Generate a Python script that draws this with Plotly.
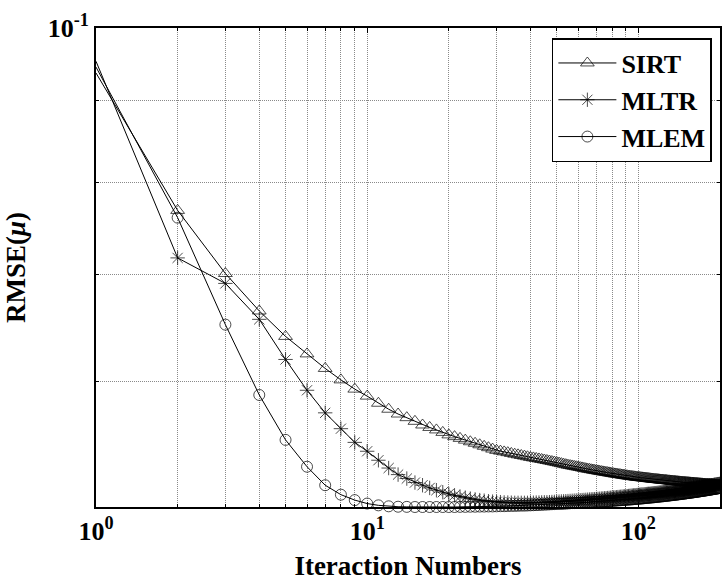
import plotly.graph_objects as go

# RMSE per iteration (iterations 1..200)
sirt = [
    0.0937, 0.0768, 0.0701, 0.0664, 0.0640, 0.0624, 0.0611, 0.0601, 0.0593, 0.0587,
    0.0581, 0.0576, 0.0572, 0.0569, 0.0566, 0.0563, 0.0561, 0.0559, 0.0557, 0.0555,
    0.05536, 0.05522, 0.05508, 0.05495, 0.05483, 0.05471, 0.05459, 0.05448, 0.05437, 0.05427,
    0.05421, 0.05415, 0.05409, 0.05403, 0.05397, 0.05392, 0.05387, 0.05382, 0.05377, 0.05372,
    0.05368, 0.05364, 0.05360, 0.05356, 0.05352, 0.05348, 0.05344, 0.05340, 0.05336, 0.05332,
    0.05328, 0.05324, 0.05320, 0.05316, 0.05312, 0.05309, 0.05306, 0.05303, 0.05300, 0.05297,
    0.05294, 0.05291, 0.05288, 0.05285, 0.05282, 0.05280, 0.05277, 0.05275, 0.05272, 0.05270,
    0.05268, 0.05265, 0.05263, 0.05261, 0.05259, 0.05257, 0.05255, 0.05253, 0.05251, 0.05249,
    0.05247, 0.05245, 0.05244, 0.05242, 0.05240, 0.05239, 0.05237, 0.05235, 0.05234, 0.05232,
    0.05231, 0.05229, 0.05228, 0.05227, 0.05225, 0.05224, 0.05223, 0.05221, 0.05220, 0.05219,
    0.05218, 0.05217, 0.05216, 0.05215, 0.05214, 0.05213, 0.05212, 0.05211, 0.05210, 0.05209,
    0.05208, 0.05207, 0.05206, 0.05205, 0.05204, 0.05204, 0.05203, 0.05202, 0.05201, 0.05200,
    0.05199, 0.05199, 0.05198, 0.05197, 0.05196, 0.05196, 0.05195, 0.05194, 0.05193, 0.05193,
    0.05192, 0.05191, 0.05191, 0.05190, 0.05189, 0.05189, 0.05188, 0.05187, 0.05187, 0.05186,
    0.05185, 0.05185, 0.05184, 0.05184, 0.05183, 0.05182, 0.05182, 0.05181, 0.05181, 0.05180,
    0.05180, 0.05179, 0.05179, 0.05178, 0.05178, 0.05177, 0.05177, 0.05176, 0.05176, 0.05175,
    0.05175, 0.05174, 0.05174, 0.05173, 0.05173, 0.05172, 0.05172, 0.05171, 0.05171, 0.05170,
    0.05170, 0.05170, 0.05169, 0.05169, 0.05168, 0.05168, 0.05167, 0.05167, 0.05167, 0.05166,
    0.05166, 0.05165, 0.05165, 0.05165, 0.05164, 0.05164, 0.05163, 0.05163, 0.05163, 0.05162,
    0.05162, 0.05161, 0.05161, 0.05161, 0.05160, 0.05160, 0.05160, 0.05159, 0.05159, 0.05159,
]

mltr = [
    0.0953, 0.0717, 0.0691, 0.0656, 0.0619, 0.0592, 0.0573, 0.0560, 0.0549, 0.0542,
    0.0535, 0.0529, 0.0524, 0.0521, 0.0518, 0.05160, 0.05140, 0.05123, 0.05108, 0.05095,
    0.05085, 0.05076, 0.05068, 0.05061, 0.05055, 0.05050, 0.05046, 0.05042, 0.05039, 0.05037,
    0.05035, 0.05033, 0.05032, 0.05031, 0.05030, 0.05030, 0.05030, 0.05030, 0.05030, 0.05031,
    0.05031, 0.05032, 0.05032, 0.05033, 0.05034, 0.05034, 0.05035, 0.05036, 0.05037, 0.05038,
    0.05039, 0.05040, 0.05041, 0.05042, 0.05043, 0.05044, 0.05045, 0.05046, 0.05047, 0.05048,
    0.05049, 0.05050, 0.05051, 0.05052, 0.05053, 0.05054, 0.05055, 0.05056, 0.05057, 0.05058,
    0.05059, 0.05060, 0.05061, 0.05062, 0.05063, 0.05064, 0.05065, 0.05066, 0.05067, 0.05068,
    0.05069, 0.05070, 0.05071, 0.05072, 0.05073, 0.05074, 0.05075, 0.05076, 0.05077, 0.05078,
    0.05079, 0.05080, 0.05081, 0.05082, 0.05083, 0.05084, 0.05085, 0.05086, 0.05087, 0.05088,
    0.05089, 0.05090, 0.05091, 0.05091, 0.05092, 0.05093, 0.05094, 0.05095, 0.05096, 0.05096,
    0.05097, 0.05098, 0.05099, 0.05100, 0.05101, 0.05101, 0.05102, 0.05103, 0.05104, 0.05105,
    0.05106, 0.05106, 0.05107, 0.05108, 0.05109, 0.05110, 0.05111, 0.05111, 0.05112, 0.05113,
    0.05114, 0.05115, 0.05116, 0.05116, 0.05117, 0.05118, 0.05119, 0.05120, 0.05121, 0.05121,
    0.05122, 0.05123, 0.05124, 0.05125, 0.05126, 0.05126, 0.05127, 0.05128, 0.05129, 0.05130,
    0.05131, 0.05132, 0.05132, 0.05133, 0.05134, 0.05135, 0.05136, 0.05136, 0.05137, 0.05138,
    0.05139, 0.05140, 0.05140, 0.05141, 0.05142, 0.05143, 0.05144, 0.05144, 0.05145, 0.05146,
    0.05147, 0.05148, 0.05148, 0.05149, 0.05150, 0.05151, 0.05152, 0.05152, 0.05153, 0.05154,
    0.05155, 0.05156, 0.05156, 0.05157, 0.05158, 0.05159, 0.05160, 0.05160, 0.05161, 0.05162,
    0.05163, 0.05164, 0.05164, 0.05165, 0.05166, 0.05167, 0.05168, 0.05168, 0.05169, 0.05170,
]

mlem = [
    0.0945, 0.0760, 0.0651, 0.0588, 0.0551, 0.0530, 0.0516, 0.0509, 0.0505, 0.05025,
    0.05012, 0.05005, 0.05002, 0.05001, 0.05000, 0.05000, 0.05000, 0.05000, 0.05000, 0.05000,
    0.05000, 0.05001, 0.05001, 0.05002, 0.05002, 0.05003, 0.05003, 0.05004, 0.05004, 0.05005,
    0.05006, 0.05006, 0.05007, 0.05008, 0.05008, 0.05009, 0.05010, 0.05010, 0.05011, 0.05012,
    0.05013, 0.05014, 0.05015, 0.05016, 0.05017, 0.05018, 0.05019, 0.05020, 0.05021, 0.05022,
    0.05023, 0.05023, 0.05024, 0.05025, 0.05026, 0.05027, 0.05028, 0.05028, 0.05029, 0.05030,
    0.05031, 0.05031, 0.05032, 0.05033, 0.05034, 0.05034, 0.05035, 0.05036, 0.05037, 0.05037,
    0.05038, 0.05039, 0.05040, 0.05040, 0.05041, 0.05042, 0.05043, 0.05043, 0.05044, 0.05045,
    0.05046, 0.05046, 0.05047, 0.05048, 0.05049, 0.05049, 0.05050, 0.05051, 0.05052, 0.05052,
    0.05053, 0.05054, 0.05055, 0.05055, 0.05056, 0.05057, 0.05058, 0.05058, 0.05059, 0.05060,
    0.05061, 0.05062, 0.05062, 0.05063, 0.05064, 0.05065, 0.05066, 0.05066, 0.05067, 0.05068,
    0.05069, 0.05070, 0.05070, 0.05071, 0.05072, 0.05073, 0.05074, 0.05074, 0.05075, 0.05076,
    0.05077, 0.05078, 0.05078, 0.05079, 0.05080, 0.05081, 0.05082, 0.05082, 0.05083, 0.05084,
    0.05085, 0.05086, 0.05086, 0.05087, 0.05088, 0.05089, 0.05090, 0.05090, 0.05091, 0.05092,
    0.05093, 0.05094, 0.05094, 0.05095, 0.05096, 0.05097, 0.05098, 0.05098, 0.05099, 0.05100,
    0.05101, 0.05102, 0.05102, 0.05103, 0.05104, 0.05105, 0.05106, 0.05106, 0.05107, 0.05108,
    0.05109, 0.05110, 0.05110, 0.05111, 0.05112, 0.05113, 0.05114, 0.05114, 0.05115, 0.05116,
    0.05117, 0.05118, 0.05118, 0.05119, 0.05120, 0.05121, 0.05122, 0.05122, 0.05123, 0.05124,
    0.05125, 0.05126, 0.05126, 0.05127, 0.05128, 0.05129, 0.05130, 0.05130, 0.05131, 0.05132,
    0.05133, 0.05134, 0.05134, 0.05135, 0.05136, 0.05137, 0.05138, 0.05138, 0.05139, 0.05140,
]

series_names = ["SIRT", "MLTR", "MLEM"]
series_values = [sirt, mltr, mlem]
series_symbols = ["triangle-up-open", "asterisk-open", "circle-open"]
series_sizes = [12, 12, 11]

x_tick_vals = [1, 10, 100]
x_tick_text = ["10<sup>0</sup>", "10<sup>1</sup>", "10<sup>2</sup>"]
x_minor_vals = [2, 3, 4, 5, 6, 7, 8, 9, 20, 30, 40, 50, 60, 70, 80, 90, 200]
y_tick_vals = [0.1]
y_tick_text = ["10<sup>-1</sup>"]
y_minor_vals = [0.05, 0.06, 0.07, 0.08, 0.09]

FONT = "Liberation Serif"
GRID = "#8a8a8a"
DASH = "1px,1px"

fig = go.Figure()
for name, vals, sym, sz in zip(series_names, series_values, series_symbols, series_sizes):
    iters = list(range(1, len(vals) + 1))
    sizes = [0] + [sz] * (len(vals) - 1)
    fig.add_trace(go.Scatter(
        x=iters, y=vals, mode="lines+markers", name=name,
        line=dict(color="black", width=1),
        marker=dict(symbol=sym, size=sizes, color="black",
                    line=dict(color="black", width=1)),
        cliponaxis=False,
    ))

axis_common = dict(
    showline=True, linecolor="black", linewidth=2, mirror="allticks",
    ticks="inside", ticklen=5, tickcolor="black", tickwidth=1,
    showgrid=True, gridcolor=GRID, griddash=DASH, gridwidth=1,
    zeroline=False,
    tickfont=dict(family=FONT, size=26, color="black", weight="bold"),
)

fig.update_xaxes(
    type="log", range=[0, 2.30103],
    tickmode="array", tickvals=x_tick_vals, ticktext=x_tick_text,
    minor=dict(tickmode="array", tickvals=x_minor_vals, showgrid=True,
               gridcolor=GRID, griddash=DASH, gridwidth=1,
               ticks="inside", ticklen=3, tickcolor="black"),
    title=dict(text="Iteraction Numbers", standoff=11,
               font=dict(family=FONT, size=27, color="black", weight="bold")),
    **axis_common,
)
fig.update_yaxes(
    type="log", range=[-1.30103, -1.0],
    tickmode="array", tickvals=y_tick_vals, ticktext=y_tick_text,
    minor=dict(tickmode="array", tickvals=y_minor_vals, showgrid=True,
               gridcolor=GRID, griddash=DASH, gridwidth=1,
               ticks="inside", ticklen=3, tickcolor="black"),
    title=dict(text="RMSE(<i>μ</i>)", standoff=14,
               font=dict(family=FONT, size=27, color="black", weight="bold")),
    **axis_common,
)

fig.update_layout(
    width=722, height=583,
    margin=dict(l=96, r=0, t=28, b=76),
    paper_bgcolor="white", plot_bgcolor="white",
    showlegend=True,
    legend=dict(
        x=0.987, y=0.979, xanchor="right", yanchor="top",
        bgcolor="white", bordercolor="black", borderwidth=1.5,
        font=dict(family=FONT, size=26, color="black", weight="bold"),
        itemwidth=58, tracegroupgap=0,
    ),
)

fig.write_html("out.html")
